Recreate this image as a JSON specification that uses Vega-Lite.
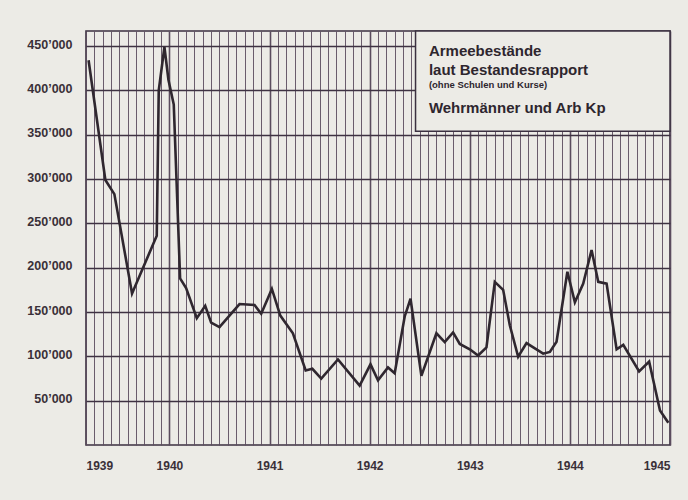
{
  "$schema": "https://vega.github.io/schema/vega-lite/v6.json",
  "width": 584,
  "height": 414,
  "autosize": "none",
  "padding": {"left": 86, "top": 31, "right": 18, "bottom": 55},
  "background": "#ecebe6",
  "config": {
    "view": {"stroke": "#3b3040", "strokeWidth": 1.6},
    "font": "Liberation Sans, Arial",
    "axis": {"labelFont": "Liberation Sans, Arial"},
    "axisX": {
      "title": null,
      "labelExpr": "datum.value == -10 ? '1939' : (datum.value % 12 == 0 ? '' + (1940 + datum.value / 12) : '')",
      "labelFlush": true,
      "labelOverlap": false,
      "grid": true,
      "gridColor": "#5b4c5e",
      "gridWidth": {"condition": {"test": "datum.value % 12 == 0", "value": 1.6}, "value": 0.9},
      "ticks": false,
      "domain": false,
      "labelPadding": 15,
      "labelBaseline": "top",
      "labelFontSize": 12,
      "labelFontWeight": "bold",
      "labelColor": "#3a3038"
    },
    "axisY": {
      "title": null,
      "labelExpr": "replace(format(datum.value, ','), ',', '’')",
      "grid": true,
      "gridColor": "#3e3242",
      "gridWidth": 1.6,
      "ticks": false,
      "domain": false,
      "labelPadding": 14,
      "labelFontSize": 12.5,
      "labelFontWeight": "bold",
      "labelColor": "#3a3038",
      "labelOffset": -2
    }
  },
  "data": {
    "values": [
      {"month": -9.69, "soldiers": 434000},
      {"month": -7.68, "soldiers": 299000},
      {"month": -6.6, "soldiers": 283000},
      {"month": -4.48, "soldiers": 171000},
      {"month": -1.52, "soldiers": 236000},
      {"month": -1.28, "soldiers": 400000},
      {"month": -0.6, "soldiers": 449000},
      {"month": -0.12, "soldiers": 412000},
      {"month": 0.52, "soldiers": 384000},
      {"month": 1.28, "soldiers": 188000},
      {"month": 2.0, "soldiers": 177000},
      {"month": 3.28, "soldiers": 143000},
      {"month": 4.29, "soldiers": 157000},
      {"month": 5.0, "soldiers": 138000},
      {"month": 6.0, "soldiers": 133000},
      {"month": 8.4, "soldiers": 159000},
      {"month": 10.2, "soldiers": 158000},
      {"month": 11.0, "soldiers": 148000},
      {"month": 12.28, "soldiers": 176000},
      {"month": 13.29, "soldiers": 146000},
      {"month": 14.8, "soldiers": 126000},
      {"month": 16.33, "soldiers": 84000},
      {"month": 17.13, "soldiers": 86000},
      {"month": 18.2, "soldiers": 75000},
      {"month": 20.2, "soldiers": 96500},
      {"month": 22.8, "soldiers": 67000},
      {"month": 24.1, "soldiers": 91000},
      {"month": 25.0, "soldiers": 73000},
      {"month": 26.2, "soldiers": 87500},
      {"month": 27.0, "soldiers": 81000},
      {"month": 28.2, "soldiers": 145000},
      {"month": 28.9, "soldiers": 165000},
      {"month": 30.2, "soldiers": 78000},
      {"month": 32.0, "soldiers": 126000},
      {"month": 33.0, "soldiers": 116000},
      {"month": 34.0, "soldiers": 127000},
      {"month": 34.8, "soldiers": 114000},
      {"month": 36.0, "soldiers": 108000},
      {"month": 37.0, "soldiers": 101000},
      {"month": 38.0, "soldiers": 110000},
      {"month": 39.0, "soldiers": 184000},
      {"month": 40.0, "soldiers": 175000},
      {"month": 40.8, "soldiers": 135000},
      {"month": 41.8, "soldiers": 99500},
      {"month": 42.8, "soldiers": 115000},
      {"month": 44.8, "soldiers": 103000},
      {"month": 45.6, "soldiers": 105000},
      {"month": 46.4, "soldiers": 116500},
      {"month": 47.7, "soldiers": 195500},
      {"month": 48.6, "soldiers": 161000},
      {"month": 49.6, "soldiers": 182000},
      {"month": 50.6, "soldiers": 220000},
      {"month": 51.4, "soldiers": 184000},
      {"month": 52.4, "soldiers": 182000},
      {"month": 53.6, "soldiers": 108000},
      {"month": 54.4, "soldiers": 113000},
      {"month": 56.3, "soldiers": 83000},
      {"month": 57.5, "soldiers": 94000},
      {"month": 58.8, "soldiers": 39000},
      {"month": 59.8, "soldiers": 25000}
    ]
  },
  "layer": [
    {
      "mark": {"type": "line", "color": "#2f272f", "strokeWidth": 2.6, "strokeJoin": "miter"},
      "encoding": {
        "x": {
          "field": "month",
          "type": "quantitative",
          "scale": {"domain": [-10, 60], "nice": false, "zero": false},
          "axis": {"values": [-10,-9,-8,-7,-6,-5,-4,-3,-2,-1,0,1,2,3,4,5,6,7,8,9,10,11,12,13,14,15,16,17,18,19,20,21,22,23,24,25,26,27,28,29,30,31,32,33,34,35,36,37,38,39,40,41,42,43,44,45,46,47,48,49,50,51,52,53,54,55,56,57,58,59,60]}
        },
        "y": {
          "field": "soldiers",
          "type": "quantitative",
          "scale": {"domain": [0, 467000], "nice": false},
          "axis": {"values": [50000, 100000, 150000, 200000, 250000, 300000, 350000, 400000, 450000]}
        }
      }
    },
    {
      "data": {"values": [{}]},
      "mark": {"type": "rect", "fill": "#ecebe6", "stroke": "#3b3040", "strokeWidth": 1.5},
      "encoding": {
        "x": {"datum": 29.5, "axis": {"values": [-10,-9,-8,-7,-6,-5,-4,-3,-2,-1,0,1,2,3,4,5,6,7,8,9,10,11,12,13,14,15,16,17,18,19,20,21,22,23,24,25,26,27,28,29,30,31,32,33,34,35,36,37,38,39,40,41,42,43,44,45,46,47,48,49,50,51,52,53,54,55,56,57,58,59,60]}},
        "x2": {"datum": 60},
        "y": {"datum": 354000, "axis": {"values": [50000, 100000, 150000, 200000, 250000, 300000, 350000, 400000, 450000]}},
        "y2": {"datum": 467000}
      }
    },
    {
      "data": {"values": [{}]},
      "mark": {"type": "text", "text": ["Armeebestände", "laut Bestandesrapport"], "lineHeight": 19, "align": "left", "baseline": "alphabetic", "fontSize": 15, "fontWeight": "bold", "color": "#2e262e"},
      "encoding": {
        "x": {"datum": 31.1, "axis": {"values": [-10,-9,-8,-7,-6,-5,-4,-3,-2,-1,0,1,2,3,4,5,6,7,8,9,10,11,12,13,14,15,16,17,18,19,20,21,22,23,24,25,26,27,28,29,30,31,32,33,34,35,36,37,38,39,40,41,42,43,44,45,46,47,48,49,50,51,52,53,54,55,56,57,58,59,60]}},
        "y": {"datum": 439000, "axis": {"values": [50000, 100000, 150000, 200000, 250000, 300000, 350000, 400000, 450000]}}
      }
    },
    {
      "data": {"values": [{}]},
      "mark": {"type": "text", "text": "(ohne Schulen und Kurse)", "align": "left", "baseline": "alphabetic", "fontSize": 9.5, "fontWeight": "bold", "color": "#2e262e"},
      "encoding": {
        "x": {"datum": 31.1, "axis": {"values": [-10,-9,-8,-7,-6,-5,-4,-3,-2,-1,0,1,2,3,4,5,6,7,8,9,10,11,12,13,14,15,16,17,18,19,20,21,22,23,24,25,26,27,28,29,30,31,32,33,34,35,36,37,38,39,40,41,42,43,44,45,46,47,48,49,50,51,52,53,54,55,56,57,58,59,60]}},
        "y": {"datum": 403000, "axis": {"values": [50000, 100000, 150000, 200000, 250000, 300000, 350000, 400000, 450000]}}
      }
    },
    {
      "data": {"values": [{}]},
      "mark": {"type": "text", "text": "Wehrmänner und Arb Kp", "align": "left", "baseline": "alphabetic", "fontSize": 15, "fontWeight": "bold", "color": "#2e262e"},
      "encoding": {
        "x": {"datum": 31.1, "axis": {"values": [-10,-9,-8,-7,-6,-5,-4,-3,-2,-1,0,1,2,3,4,5,6,7,8,9,10,11,12,13,14,15,16,17,18,19,20,21,22,23,24,25,26,27,28,29,30,31,32,33,34,35,36,37,38,39,40,41,42,43,44,45,46,47,48,49,50,51,52,53,54,55,56,57,58,59,60]}},
        "y": {"datum": 374700, "axis": {"values": [50000, 100000, 150000, 200000, 250000, 300000, 350000, 400000, 450000]}}
      }
    }
  ]
}
